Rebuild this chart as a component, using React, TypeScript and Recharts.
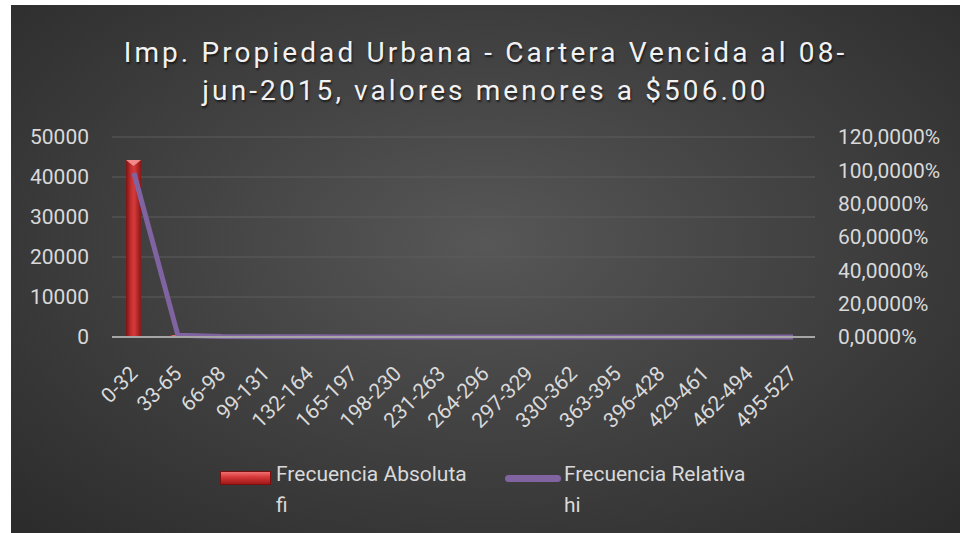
import React from "react";
import { ComposedChart, Bar, Line, XAxis, YAxis, CartesianGrid, Legend } from "recharts";

const categories = ["0-32","33-65","66-98","99-131","132-164","165-197","198-230","231-263","264-296","297-329","330-362","363-395","396-428","429-461","462-494","495-527"];
const fiValues = [44250, 450, 120, 60, 40, 30, 20, 15, 10, 10, 8, 5, 5, 3, 2, 2];
const hiValues = [0.984, 0.01, 0.0027, 0.0013, 0.0009, 0.0007, 0.0004, 0.0003, 0.0002, 0.0002, 0.0002, 0.0001, 0.0001, 0.0001, 0.0, 0.0];
const leftTicks = [0, 10000, 20000, 30000, 40000, 50000];
const rightTicks = [0, 0.2, 0.4, 0.6, 0.8, 1.0, 1.2];
const titleLines = ["Imp. Propiedad Urbana - Cartera Vencida al 08-", "jun-2015, valores menores a $506.00"];
const seriesNames = { fi: ["Frecuencia Absoluta", "fi"], hi: ["Frecuencia Relativa", "hi"] };

const data = categories.map((c, i) => ({ cat: c, fi: fiValues[i], hi: hiValues[i] }));

const FONT = "Roboto, sans-serif";
const TXT = "#d9d9d9";

const pct = (v: number) => (v * 100).toFixed(4).replace(".", ",") + "%";

const BarShape = (props: any) => {
  const { x, y, width, height } = props;
  if (!height || height <= 0) return null;
  const tri = Math.min(6, height);
  return (
    <g>
      <rect x={x} y={y} width={width} height={height} fill="url(#barGrad)" />
      <polygon points={`${x},${y} ${x + width},${y} ${x + width / 2},${y + tri}`} fill="#f28a8a" />
    </g>
  );
};

const XTick = (props: any) => {
  const { x, y, payload } = props;
  const ax = x + 5;
  const ay = y + 30;
  return (
    <text x={ax} y={ay} transform={`rotate(-45, ${ax}, ${ay})`} textAnchor="end" fill={TXT} fontSize={21} fontFamily={FONT}>
      {payload.value}
    </text>
  );
};

const LegendContent = () => (
  <div style={{ position: "relative", width: 949, height: 60, fontFamily: FONT, fontSize: 21, color: TXT }}>
    <div style={{ position: "absolute", left: 209, top: 4, width: 51, height: 14, background: "linear-gradient(to bottom, #f07070 0%, #d83a3a 40%, #a01818 100%)", border: "1px solid #7a1010", boxSizing: "border-box" }} />
    <div style={{ position: "absolute", left: 265, top: -8, lineHeight: "31px" }}>
      <div>{seriesNames.fi[0]}</div>
      <div>{seriesNames.fi[1]}</div>
    </div>
    <div style={{ position: "absolute", left: 494, top: 8, width: 56, height: 7, borderRadius: 4, background: "#8064a2" }} />
    <div style={{ position: "absolute", left: 553, top: -8, lineHeight: "31px" }}>
      <div>{seriesNames.hi[0]}</div>
      <div>{seriesNames.hi[1]}</div>
    </div>
  </div>
);

export default function App() {
  return (
    <div style={{ position: "absolute", left: 11, top: 5, width: 949, height: 528, background: "radial-gradient(ellipse 70% 75% at 50% 45%, #575757 0%, #454545 40%, #2c2c2c 100%)", overflow: "hidden" }}>
      <div style={{ position: "absolute", left: 0, top: 29, width: 949, textAlign: "center", fontFamily: FONT, fontSize: 28, letterSpacing: "3.1px", color: "#f2f2f2", lineHeight: "38px", textShadow: "1px 2px 2px rgba(0,0,0,0.6)" }}>
        <div>{titleLines[0]}</div>
        <div>{titleLines[1]}</div>
      </div>
      <ComposedChart width={949} height={528} data={data} margin={{ top: 132, right: 0, left: 0, bottom: 0 }} barCategoryGap={0}>
        <defs>
          <linearGradient id="barGrad" x1="0" y1="0" x2="1" y2="0">
            <stop offset="0%" stopColor="#7a1414" />
            <stop offset="35%" stopColor="#c83030" />
            <stop offset="55%" stopColor="#d63a3a" />
            <stop offset="100%" stopColor="#861818" />
          </linearGradient>
        </defs>
        <CartesianGrid yAxisId="left" vertical={false} stroke="#5c5c5c" strokeWidth={1} />
        <XAxis dataKey="cat" height={196} interval={0} tickLine={false} axisLine={{ stroke: "#a6a6a6", strokeWidth: 2 }} tick={<XTick />} />
        <YAxis yAxisId="left" orientation="left" width={101} domain={[0, 50000]} ticks={leftTicks} tickLine={false} axisLine={false} tickMargin={23} tickSize={0} tick={{ fill: TXT, fontSize: 21, fontFamily: FONT }} />
        <YAxis yAxisId="right" orientation="right" width={145} domain={[0, 1.2]} ticks={rightTicks} tickFormatter={pct} tickLine={false} axisLine={false} tickMargin={23} tickSize={0} tick={{ fill: TXT, fontSize: 21, fontFamily: FONT, textAnchor: "start" }} />
        <Bar yAxisId="left" dataKey="fi" barSize={15} shape={<BarShape />} isAnimationActive={false} />
        <Line yAxisId="right" dataKey="hi" stroke="#8064a2" strokeWidth={5} dot={false} strokeLinejoin="round" isAnimationActive={false} />
        <Legend layout="vertical" align="center" verticalAlign="middle" wrapperStyle={{ position: "absolute", left: 0, top: 462, width: 949, height: 60 }} content={<LegendContent />} />
      </ComposedChart>
    </div>
  );
}
